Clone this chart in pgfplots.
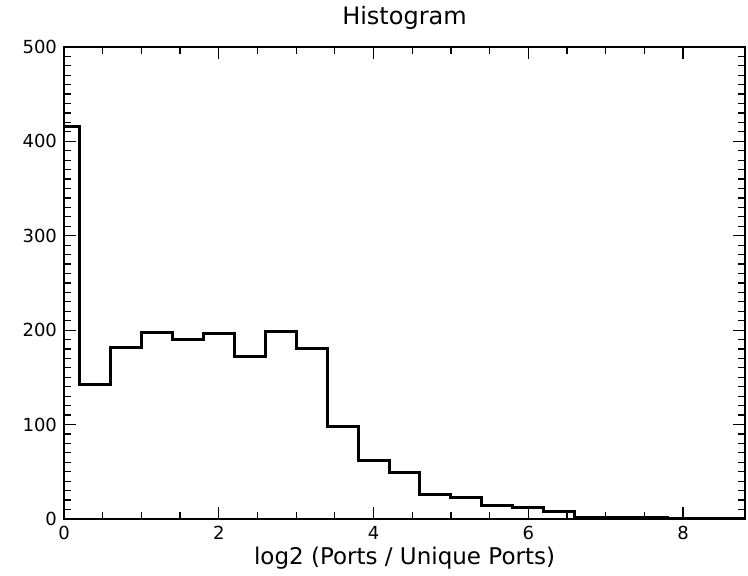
\documentclass[border=0pt]{standalone}
\usepackage{pgfplots}
\pgfplotsset{compat=1.18}
\usepackage{fontspec}
\setmainfont{DejaVu Sans}

\begin{document}
\begin{tikzpicture}
\begin{axis}[
    name=ax,
    scale only axis,
    width=340.5pt, height=236pt,
    xmin=0, xmax=8.8,
    ymin=0, ymax=500,
    xtick={0,2,4,6,8},
    ytick={0,100,200,300,400,500},
    minor x tick num=3,
    minor y tick num=9,
    tick pos=both,
    tick align=inside,
    major tick length=6pt,
    minor tick length=3.5pt,
    axis line style={line width=0.7pt},
    every tick/.style={black, line width=0.6pt},
    /pgf/number format/assume math mode=true,
    tick label style={font=\fontsize{9}{10}\selectfont},
    title={Histogram},
    title style={font=\fontsize{12}{14}\selectfont, at={(axis description cs:0.5,1)}, anchor=base, yshift=5pt},
    xlabel={log2 (Ports / Unique Ports)},
    xlabel style={font=\fontsize{11.5}{13}\selectfont, at={(axis description cs:0.5,0)}, anchor=center, yshift=-19.5pt},
]
\addplot[const plot, black, line width=1.5pt] coordinates {
    (0,416) (0.2,142) (0.6,182) (1.0,197) (1.4,190) (1.8,196)
    (2.2,172) (2.6,199) (3.0,181) (3.4,98) (3.8,62) (4.2,49)
    (4.6,26) (5.0,23) (5.4,14) (5.8,12) (6.2,8) (6.6,2)
    (7.0,2) (7.4,2) (7.8,0) (8.8,0)
};
\end{axis}
\path (ax.south west) ++(-32pt,-28pt) rectangle ([xshift=1.5pt,yshift=18.5pt]ax.north east);
\end{tikzpicture}
\end{document}
